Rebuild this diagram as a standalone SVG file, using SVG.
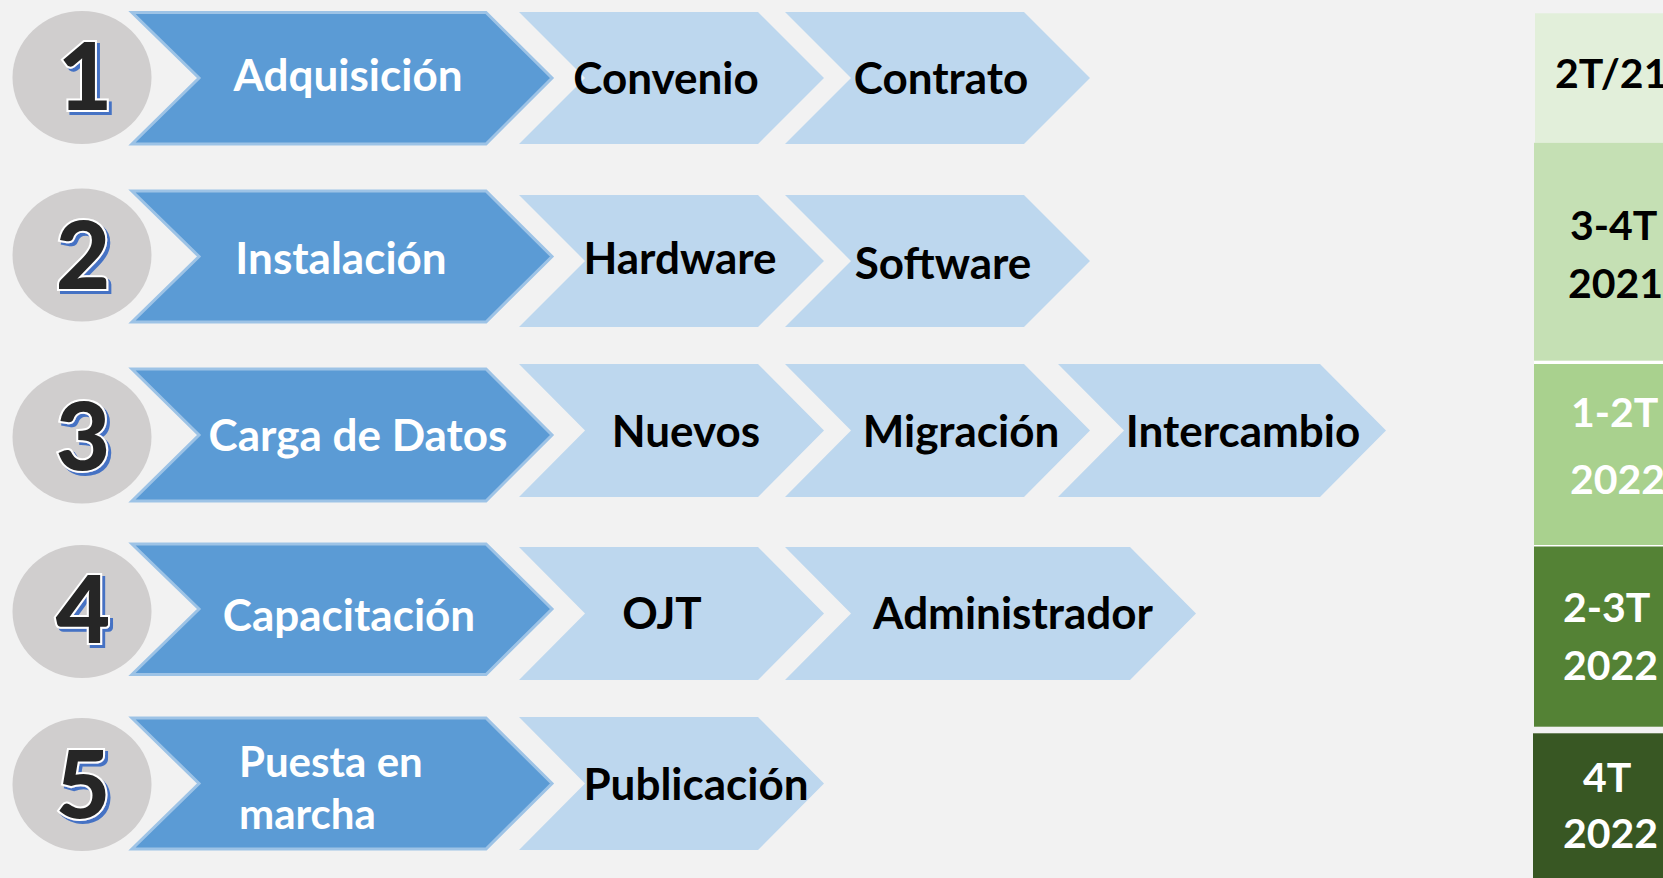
<svg xmlns="http://www.w3.org/2000/svg" width="1663" height="878" viewBox="0 0 1663 878">
<defs>
<filter id="numShadow" x="-20%" y="-20%" width="150%" height="150%">
  <feOffset in="SourceAlpha" dx="3" dy="3" result="off"/>
  <feFlood flood-color="#4472c4" result="blue"/>
  <feComposite in="blue" in2="off" operator="in" result="sh"/>
  <feMerge><feMergeNode in="sh"/><feMergeNode in="SourceGraphic"/></feMerge>
</filter>
</defs>
<style>
.bg{fill:#f2f2f2}
.circ{fill:#d0cece}
.main{fill:#5b9bd5;stroke:#9dc3e6;stroke-width:3;stroke-linejoin:miter}
.sub{fill:#bdd7ee}
.num{font-family:Lato,"Liberation Sans",sans-serif;font-weight:900;font-size:94px;text-anchor:middle;fill:#262626;stroke:#ffffff;stroke-width:4;paint-order:stroke;filter:url(#numShadow)}
.lbl{font-family:Lato,"Liberation Sans",sans-serif;font-weight:bold;font-size:44px;text-anchor:middle}
.w{fill:#ffffff}
.k{fill:#000000}
.gt{font-family:Lato,"Liberation Sans",sans-serif;font-weight:bold;font-size:41px}
</style>
<rect class="bg" x="0" y="0" width="1663" height="878"/>

<g id="step1">
  <ellipse class="circ" cx="82" cy="77.5" rx="69.5" ry="66.5"/>
  <text class="num" x="85" y="110">1</text>
  <polygon class="main" points="132,12.5 486,12.5 552,78 486,144 132,144 199,78"/>
  <text class="lbl w" x="348" y="91">Adquisición</text>
</g>
<g id="step1-convenio">
  <polygon class="sub" points="519,12 758,12 824,78 758,144 519,144 585,78"/>
  <text class="lbl k" x="666" y="94">Convenio</text>
</g>
<g id="step1-contrato">
  <polygon class="sub" points="785,12 1024,12 1090,78 1024,144 785,144 851,78"/>
  <text class="lbl k" x="941" y="94">Contrato</text>
</g>

<g id="step2">
  <ellipse class="circ" cx="82" cy="255" rx="69.5" ry="66.5"/>
  <text class="num" x="83" y="289">2</text>
  <polygon class="main" points="132,191 486,191 552,256.5 486,322 132,322 199,256.5"/>
  <text class="lbl w" x="341" y="274">Instalación</text>
</g>
<g id="step2-hardware">
  <polygon class="sub" points="519,195 758,195 824,261 758,327 519,327 585,261"/>
  <text class="lbl k" x="680" y="274">Hardware</text>
</g>
<g id="step2-software">
  <polygon class="sub" points="785,195 1024,195 1090,261 1024,327 785,327 851,261"/>
  <text class="lbl k" x="943" y="279">Software</text>
</g>

<g id="step3">
  <ellipse class="circ" cx="82" cy="437" rx="69.5" ry="66.5"/>
  <text class="num" x="83" y="470">3</text>
  <polygon class="main" points="132,369 486,369 552,435 486,501 132,501 199,435"/>
  <text class="lbl w" x="358" y="451">Carga de Datos</text>
</g>
<g id="step3-nuevos">
  <polygon class="sub" points="519,364 758,364 824,430.5 758,497 519,497 585,430.5"/>
  <text class="lbl k" x="686" y="447">Nuevos</text>
</g>
<g id="step3-migracion">
  <polygon class="sub" points="785,364 1024,364 1090,430.5 1024,497 785,497 851,430.5"/>
  <text class="lbl k" x="961" y="447">Migración</text>
</g>
<g id="step3-intercambio">
  <polygon class="sub" points="1058,364 1320,364 1386,430.5 1320,497 1058,497 1124,430.5"/>
  <text class="lbl k" x="1243" y="447">Intercambio</text>
</g>

<g id="step4">
  <ellipse class="circ" cx="82" cy="611.5" rx="69.5" ry="66.5"/>
  <text class="num" x="83" y="643">4</text>
  <polygon class="main" points="132,544 486,544 552,609 486,674.5 132,674.5 199,609"/>
  <text class="lbl w" x="349" y="631">Capacitación</text>
</g>
<g id="step4-ojt">
  <polygon class="sub" points="519,547 758,547 824,613.5 758,680 519,680 585,613.5"/>
  <text class="lbl k" x="662" y="629">OJT</text>
</g>
<g id="step4-administrador">
  <polygon class="sub" points="785,547 1130,547 1196,613.5 1130,680 785,680 851,613.5"/>
  <text class="lbl k" x="1013" y="629">Administrador</text>
</g>

<g id="step5">
  <ellipse class="circ" cx="82" cy="784.5" rx="69.5" ry="66.5"/>
  <text class="num" x="83" y="818">5</text>
  <polygon class="main" points="132,718 486,718 552,783.5 486,849 132,849 199,783.5"/>
  <text class="lbl w" x="239" y="777" style="text-anchor:start;font-size:42px">Puesta en</text>
  <text class="lbl w" x="239" y="829" style="text-anchor:start;font-size:42px">marcha</text>
</g>
<g id="step5-publicacion">
  <polygon class="sub" points="519,717 758,717 824,783.5 758,850 519,850 585,783.5"/>
  <text class="lbl k" x="696" y="800">Publicación</text>
</g>

<g id="timeline">
  <rect x="1535" y="13.3" width="140" height="129.5" fill="#e2efda"/>
  <rect x="1534" y="142.8" width="140" height="218" fill="#c5e0b4"/>
  <rect x="1534" y="360.8" width="140" height="3.2" fill="#ffffff"/>
  <rect x="1534" y="364" width="140" height="181" fill="#a9d18e"/>
  <rect x="1534" y="545" width="140" height="1.5" fill="#ffffff"/>
  <rect x="1534" y="546.5" width="140" height="180.2" fill="#548235"/>
  <rect x="1533" y="733.3" width="140" height="150" fill="#385723"/>
  <text class="gt k" x="1555" y="88">2T/21</text>
  <text class="gt k" x="1570" y="240">3-4T</text>
  <text class="gt k" x="1568" y="297.5">2021</text>
  <text class="gt w" x="1571" y="427">1-2T</text>
  <text class="gt w" x="1570" y="494">2022</text>
  <text class="gt w" x="1563" y="621.5">2-3T</text>
  <text class="gt w" x="1563" y="680">2022</text>
  <text class="gt w" x="1583" y="791.5">4T</text>
  <text class="gt w" x="1563" y="848">2022</text>
</g>
</svg>
